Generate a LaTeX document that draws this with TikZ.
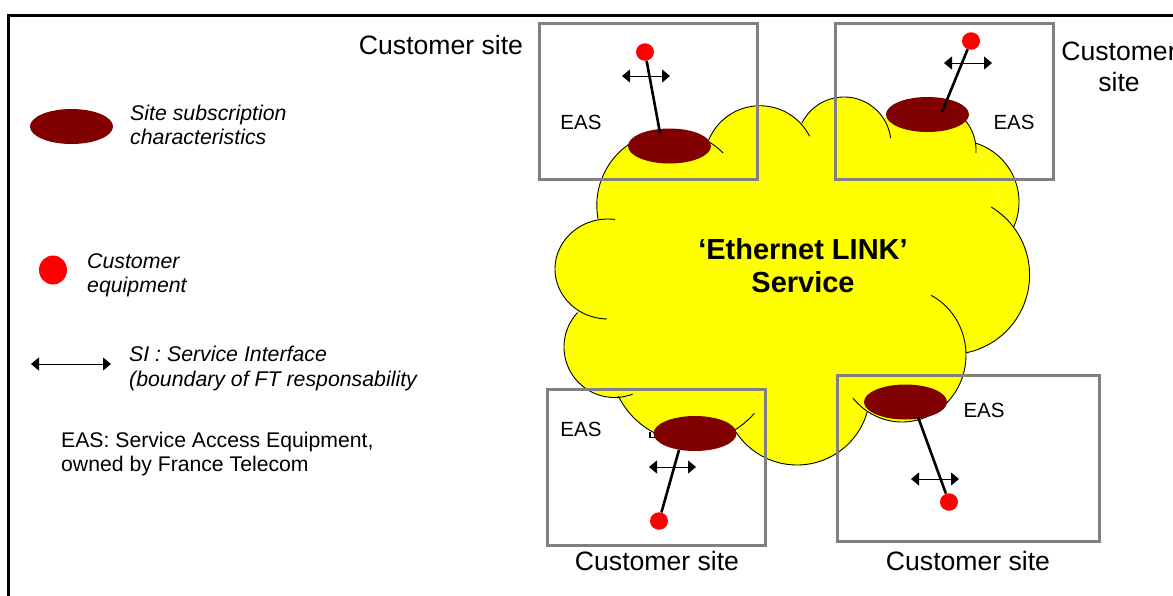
\documentclass[tikz,border=0pt]{standalone}
\usepackage{fontspec}
\setmainfont{Liberation Sans}
\usetikzlibrary{shapes.geometric,arrows.meta}
\definecolor{easred}{HTML}{800000}
\definecolor{boxgray}{HTML}{808080}
\definecolor{cloudyellow}{HTML}{FFFF00}
\definecolor{dotred}{HTML}{FF0000}
% one lobe of the cloud: options, centre x y, radii x y, start and end angle
\newcommand{\clobe}[7]{\path[#1] plot[variable=\t,domain=#6:#7,samples=50,smooth] ({#2+#4*cos(\t)},{#3+#5*sin(\t)});}
\newcommand{\cloudlobes}[1]{%
\clobe{#1}{670.8}{205.3}{74}{74}{169.5}{315}
\clobe{#1}{760}{161.25}{55.5}{55.5}{202.2}{333.2}
\clobe{#1}{844}{144}{47}{47}{206.6}{352.7}
\clobe{#1}{930}{150}{46}{46}{225}{363.4}
\clobe{#1}{957.4}{202}{61.6}{61.6}{286.6}{384.2}
\clobe{#1}{950.2}{275}{79.4}{79.4}{301}{438.5}
\clobe{#1}{902}{355}{64}{67}{297}{500}
\clobe{#1}{797}{392}{73}{73}{15.2}{146.7}
\clobe{#1}{692}{360}{82}{82}{40.5}{153.7}
\clobe{#1}{614.5}{347}{50.5}{50.5}{69}{223}
\clobe{#1}{608}{269}{53}{50}{91}{277.6}
}
\tikzset{
  sitebox/.style={draw=boxgray,line width=3pt,fill=none},
  easmark/.style={ellipse,fill=easred,inner sep=0pt,minimum width=83pt,minimum height=35pt},
  custdot/.style={ellipse,fill=dotred,inner sep=0pt,minimum width=18pt,minimum height=17.5pt},
  link/.style={line width=2.6pt,black},
  siarrow/.style={line width=0.9pt,black,{Triangle[length=8pt,width=13pt]}-{Triangle[length=8pt,width=13pt]}},
  biglabel/.style={font=\fontsize{26.6}{31}\selectfont,align=center,inner sep=0pt},
  smalllabel/.style={font=\fontsize{20.5}{24}\selectfont,align=left,inner sep=0pt},
  legendtext/.style={font=\fontsize{21.3}{24.5}\selectfont\itshape,align=left,anchor=west,inner sep=0pt},
}
\begin{document}
\begin{tikzpicture}[x=1pt,y=-1pt]
\useasboundingbox (0,0) rectangle (1173,595);
\clip (0,0) rectangle (1173,595);
\draw[line width=3pt,black] (8,596) -- (8,15) -- (1174,15);
% cloud
\fill[cloudyellow] (597,219) -- (708,140) -- (802,123) -- (897,117) -- (975,143) -- (1013,227) -- (966,353) -- (947,403) -- (867,411) -- (736,431) -- (625,395) -- (577,312) -- cycle;
\cloudlobes{fill=cloudyellow}
\draw[cloudyellow,line width=3pt] (862,412) -- (741,431);
\cloudlobes{draw=black,line width=0.9pt}
\draw[line width=1.6pt,black] (650,432) -- (650,437.5) -- (655,437.5);
% site boxes
\draw[sitebox] (539.5,23.5) rectangle (757.5,179.5);
\draw[sitebox] (835.5,23.5) rectangle (1053.5,179.5);
\draw[sitebox] (547.5,389.5) rectangle (765.5,545.5);
\draw[sitebox] (837.5,375.5) rectangle (1099.5,541.5);
% marks
\node[easmark] (e1) at (669.5,146) {};
\node[easmark] (e2) at (927.5,114.5) {};
\node[easmark] (e3) at (695,433.5) {};
\node[easmark] (e4) at (905.5,402) {};
\node[custdot] (d1) at (645,52) {};
\node[custdot] (d2) at (971,41) {};
\node[custdot] (d3) at (659,521) {};
\node[custdot] (d4) at (949,502) {};
\coordinate (c1) at (660,133);
\coordinate (c2) at (942,112);
\coordinate (c3) at (679,450);
\coordinate (c4) at (918,417);
\draw[link] (d1) -- (c1);
\draw[link] (d2) -- (c2);
\draw[link] (d3) -- (c3);
\draw[link] (d4) -- (c4);
% service interfaces
\coordinate (a1l) at (622,76); \coordinate (a1r) at (670,76);
\coordinate (a2l) at (944,63); \coordinate (a2r) at (992,63);
\coordinate (a3l) at (649,467); \coordinate (a3r) at (696,467);
\coordinate (a4l) at (911,479); \coordinate (a4r) at (959,479);
\coordinate (a5l) at (31,364); \coordinate (a5r) at (111,364);
\draw[siarrow] (a1l) -- (a1r);
\draw[siarrow] (a2l) -- (a2r);
\draw[siarrow] (a3l) -- (a3r);
\draw[siarrow] (a4l) -- (a4r);
\draw[siarrow] (a5l) -- (a5r);
% labels
\node[smalllabel] (t1) at (581,122) {EAS};
\node[smalllabel] (t2) at (1014,122) {EAS};
\node[smalllabel] (t3) at (581,429.5) {EAS};
\node[smalllabel] (t4) at (984,410) {EAS};
\node[biglabel] (s1) at (441,45) {Customer site};
\node[biglabel] (s2) at (1119,66.5) {Customer\\site};
\node[biglabel] (s3) at (657,561) {Customer site};
\node[biglabel] (s4) at (968,561) {Customer site};
\node[font=\fontsize{29}{33}\selectfont\bfseries,align=center,inner sep=0pt] (title) at (803,265.5) {‘Ethernet LINK’\\Service};
% legend
\node[easmark] (le) at (71.5,126.5) {};
\node[custdot,minimum width=28pt,minimum height=29pt] (ld) at (53,270) {};
\node[legendtext] (l1) at (130,125) {Site subscription\\characteristics};
\node[legendtext] (l2) at (87,275.5) {Customer\\equipment};
\node[legendtext] (l3) at (129,368.5) {SI : Service Interface\\(boundary of FT responsability};
\node[smalllabel,anchor=west,font=\fontsize{21.2}{24}\selectfont] (l4) at (61,454) {EAS: Service Access Equipment,\\owned by France Telecom};
\end{tikzpicture}
\end{document}
